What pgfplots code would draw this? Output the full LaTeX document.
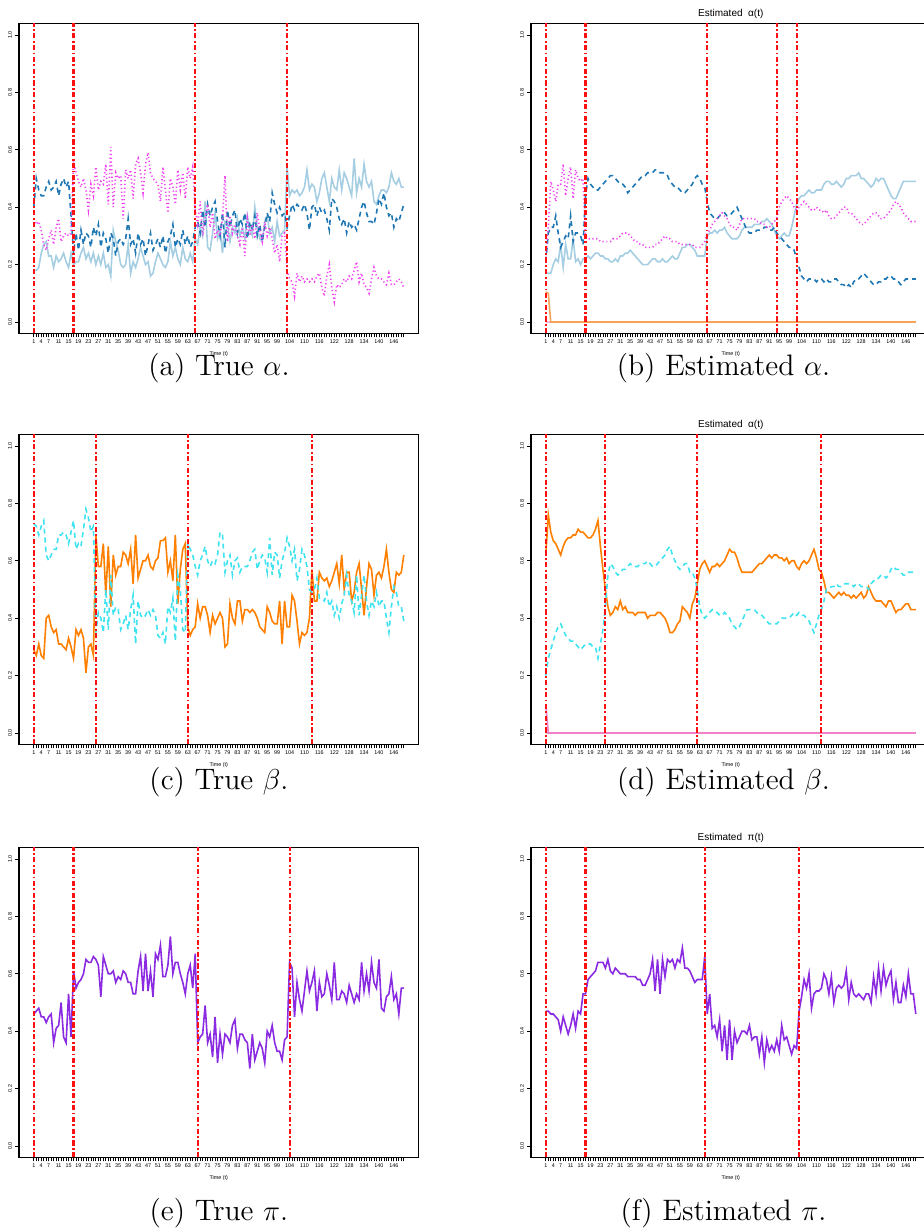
\documentclass[border=0pt]{standalone}
\usepackage{fontspec}
\usepackage{pgfplots}
\pgfplotsset{compat=1.18}
\newfontfamily\plotfont{Liberation Sans}
\newcommand{\tickfont}{\plotfont\fontsize{2.7}{3.2}\selectfont}
\newcommand{\titlefont}{\plotfont\fontsize{5}{6}\selectfont}
\newcommand{\capfont}{\fontsize{14.8}{17}\selectfont}
\definecolor{pLB}{HTML}{A6CEE3}
\definecolor{pDB}{HTML}{1F78B4}
\definecolor{pMG}{HTML}{F040F0}
\definecolor{pOR}{HTML}{FF7F00}
\definecolor{pCY}{HTML}{3FE3F0}
\definecolor{pPU}{HTML}{8A2BE2}
\definecolor{pLO}{HTML}{F5A45A}
\definecolor{pPK}{HTML}{F080C8}
\definecolor{pRD}{HTML}{FF1010}
\newcommand{\ser}[2]{\addplot[#1] table[x expr=\coordindex+1, y index=0, header=false, row sep=\\]{#2};}
\newcommand{\vl}[1]{\addplot[draw=pRD, color=pRD, solid, line width=1.05pt, line cap=butt, dash pattern=on 2.6pt off 1.2pt on 0.9pt off 1.2pt] coordinates {(#1,-0.04) (#1,1.04)};}
\pgfplotsset{
 panel/.style={scale only axis, width=199.8pt, height=155pt,
  xmin=-4.96, xmax=155.96, ymin=-0.04, ymax=1.04,
  axis line style={line width=0.6pt}, tick style={black, line width=0.4pt},
  tick align=outside, xtick pos=lower, ytick pos=left,
  major tick length=2pt, minor tick length=2pt,
  xtick={1,4,7,11,15,19,23,27,31,35,39,43,47,51,55,59,63,67,71,75,79,83,87,91,95,99,104,110,116,122,128,134,140,146},
  minor xtick={1,...,150},
  ytick={0,0.2,0.4,0.6,0.8,1},
  /pgf/number format/assume math mode=true,
  ticklabel style={font=\tickfont},
  xticklabel shift=-2.5pt, yticklabel shift=-2pt,
  yticklabel style={rotate=90, anchor=south, /pgf/number format/.cd, fixed, fixed zerofill, precision=1},
  xlabel={Time (t)},
  xlabel style={font=\tickfont, at={(axis description cs:0.5,0)}, anchor=north, yshift=-9pt, inner sep=0pt},
  title style={font=\titlefont, at={(0.5,1)}, anchor=south, yshift=-3.5pt, inner sep=0pt},
  clip=true},
 lb/.style={pLB, line width=0.8pt},
 db/.style={pDB, line width=0.8pt, dash pattern=on 2.5pt off 2pt},
 mg/.style={pMG, line width=0.8pt, dash pattern=on 0.6pt off 1.3pt},
 orl/.style={pOR, line width=0.8pt},
 cy/.style={pCY, line width=0.8pt, dash pattern=on 2.5pt off 2pt},
 pu/.style={pPU, line width=0.8pt}
}
\begin{document}
\begin{tikzpicture}
\useasboundingbox (0,0) rectangle (462pt,616pt);
\clip (0,0) rectangle (462pt,616pt);
% ---------------- (a) True alpha
\begin{axis}[panel, at={(9.5pt,449.25pt)}, anchor=south west]
\ser{lb}{0.18\\0.18\\0.19\\0.24\\0.27\\0.28\\0.23\\0.23\\0.19\\0.23\\0.21\\0.22\\0.24\\0.21\\0.19\\0.24\\
0.20\\0.21\\0.21\\0.24\\0.26\\0.22\\0.24\\0.21\\0.24\\0.20\\0.23\\0.20\\0.24\\0.19\\0.20\\0.16\\0.32\\0.28\\0.25\\0.20\\
0.19\\0.20\\0.27\\0.17\\0.21\\0.19\\0.22\\0.26\\0.23\\0.20\\0.21\\0.16\\0.17\\0.21\\0.24\\0.22\\0.20\\0.19\\0.21\\0.28\\
0.23\\0.26\\0.22\\0.20\\0.26\\0.22\\0.21\\0.24\\0.21\\
0.29\\0.27\\0.33\\0.30\\0.42\\0.26\\0.25\\0.31\\0.38\\0.29\\0.32\\0.24\\0.35\\0.34\\0.28\\0.33\\0.31\\0.36\\0.30\\0.33\\
0.29\\0.37\\0.32\\0.30\\0.40\\0.33\\0.29\\0.28\\0.35\\0.37\\0.31\\0.33\\0.28\\0.35\\0.30\\0.31\\0.32\\
0.54\\0.44\\0.46\\0.45\\0.46\\0.44\\0.45\\0.47\\0.53\\0.46\\0.48\\0.47\\0.42\\0.45\\0.50\\0.52\\0.47\\0.42\\0.50\\0.47\\
0.46\\0.53\\0.46\\0.52\\0.50\\0.47\\0.44\\0.57\\0.45\\0.50\\0.47\\0.55\\0.49\\0.47\\0.49\\0.42\\0.41\\0.44\\0.46\\0.46\\
0.45\\0.47\\0.52\\0.49\\0.48\\0.50\\0.47\\0.47\\}
\ser{db}{0.40\\0.50\\0.46\\0.44\\0.44\\0.47\\0.49\\0.46\\0.47\\0.49\\0.44\\0.48\\0.50\\0.47\\0.49\\0.37\\
0.24\\0.31\\0.25\\0.32\\0.27\\0.31\\0.30\\0.26\\0.33\\0.30\\0.34\\0.26\\0.31\\0.29\\0.24\\0.31\\0.29\\0.23\\0.28\\0.29\\
0.27\\0.29\\0.36\\0.27\\0.29\\0.24\\0.31\\0.27\\0.29\\0.23\\0.27\\0.31\\0.25\\0.27\\0.29\\0.26\\0.30\\0.24\\0.28\\0.30\\
0.34\\0.26\\0.29\\0.27\\0.32\\0.27\\0.30\\0.26\\0.28\\
0.33\\0.35\\0.31\\0.39\\0.33\\0.41\\0.37\\0.40\\0.42\\0.35\\0.30\\0.38\\0.26\\0.39\\0.33\\0.37\\0.39\\0.31\\0.36\\0.34\\
0.38\\0.29\\0.35\\0.32\\0.37\\0.30\\0.34\\0.28\\0.33\\0.38\\0.35\\0.45\\0.41\\0.38\\0.40\\0.37\\0.38\\
0.33\\0.37\\0.41\\0.39\\0.41\\0.40\\0.39\\0.41\\0.38\\0.32\\0.40\\0.41\\0.37\\0.40\\0.38\\0.39\\0.36\\0.32\\0.43\\0.42\\
0.40\\0.36\\0.34\\0.36\\0.31\\0.35\\0.33\\0.34\\0.32\\0.36\\0.40\\0.42\\0.38\\0.35\\0.35\\0.34\\0.38\\0.43\\0.41\\0.45\\
0.40\\0.37\\0.38\\0.33\\0.36\\0.35\\0.38\\0.41\\}
\ser{mg}{0.36\\0.34\\0.35\\0.32\\0.27\\0.25\\0.29\\0.32\\0.27\\0.33\\0.36\\0.28\\0.30\\0.31\\0.30\\0.31\\
0.56\\0.52\\0.49\\0.47\\0.50\\0.46\\0.39\\0.48\\0.44\\0.54\\0.46\\0.49\\0.48\\0.55\\0.41\\0.61\\0.40\\0.52\\0.50\\0.51\\
0.36\\0.53\\0.50\\0.53\\0.43\\0.55\\0.57\\0.52\\0.45\\0.55\\0.59\\0.52\\0.50\\0.49\\0.48\\0.42\\0.54\\0.46\\0.38\\0.50\\
0.47\\0.41\\0.53\\0.46\\0.52\\0.43\\0.54\\0.50\\0.54\\
0.39\\0.34\\0.42\\0.30\\0.36\\0.41\\0.33\\0.38\\0.29\\0.32\\0.30\\0.36\\0.51\\0.28\\0.37\\0.31\\0.34\\0.30\\0.27\\0.33\\
0.23\\0.36\\0.30\\0.34\\0.29\\0.38\\0.32\\0.28\\0.35\\0.30\\0.33\\0.29\\0.24\\0.27\\0.21\\0.30\\0.31\\
0.18\\0.15\\0.14\\0.09\\0.17\\0.14\\0.16\\0.14\\0.15\\0.14\\0.15\\0.14\\0.16\\0.17\\0.12\\0.09\\0.16\\0.20\\0.12\\0.07\\
0.13\\0.12\\0.13\\0.15\\0.14\\0.16\\0.15\\0.18\\0.21\\0.14\\0.17\\0.13\\0.12\\0.10\\0.15\\0.19\\0.16\\0.15\\0.15\\0.14\\
0.13\\0.17\\0.13\\0.13\\0.14\\0.15\\0.14\\0.12\\}
\vl{1}\vl{17}\vl{66}\vl{103}
\end{axis}
% ---------------- (b) Estimated alpha
\begin{axis}[panel, at={(265.5pt,449.25pt)}, anchor=south west, title={Estimated\ \ α(t)}]
\addplot[pPK!60, line width=0.7pt, dash pattern=on 2pt off 1.5pt] coordinates {(1,0) (150,0)};
\addplot[pLO, line width=0.8pt] coordinates {(1,0.105) (2,0.10) (3,0) (150,0)};
\ser{lb}{0.17\\0.17\\0.17\\0.20\\0.22\\0.21\\0.27\\0.19\\0.27\\0.22\\0.22\\0.29\\0.21\\0.22\\0.20\\0.22\\
0.22\\0.23\\0.22\\0.23\\0.24\\0.24\\0.23\\0.23\\0.22\\0.22\\0.21\\0.21\\0.22\\0.21\\0.23\\0.23\\0.24\\0.24\\0.25\\0.24\\
0.23\\0.22\\0.21\\0.20\\0.20\\0.20\\0.21\\0.22\\0.22\\0.21\\0.21\\0.22\\0.21\\0.21\\0.22\\0.23\\0.22\\0.22\\0.24\\0.26\\
0.26\\0.27\\0.27\\0.26\\0.25\\0.23\\0.23\\0.23\\0.23\\
0.30\\0.31\\0.31\\0.32\\0.31\\0.32\\0.32\\0.33\\0.31\\0.30\\0.29\\0.29\\0.29\\0.30\\0.32\\0.33\\0.33\\0.33\\0.33\\0.34\\
0.34\\0.34\\0.35\\0.35\\0.36\\0.35\\0.34\\0.32\\
0.30\\0.29\\0.30\\0.31\\0.30\\0.30\\0.33\\0.37\\
0.41\\0.43\\0.44\\0.44\\0.45\\0.46\\0.45\\0.45\\0.46\\0.46\\0.46\\0.48\\0.49\\0.49\\0.48\\0.48\\0.49\\0.48\\0.47\\0.48\\
0.50\\0.50\\0.51\\0.51\\0.51\\0.52\\0.50\\0.50\\0.49\\0.48\\0.47\\0.48\\0.50\\0.49\\0.50\\0.50\\0.48\\0.46\\0.44\\0.43\\
0.43\\0.45\\0.47\\0.49\\0.49\\0.49\\0.49\\0.49\\0.49\\}
\ser{db}{0.21\\0.31\\0.33\\0.33\\0.37\\0.31\\0.26\\0.28\\0.30\\0.29\\0.37\\0.28\\0.31\\0.31\\0.30\\0.27\\
0.44\\0.50\\0.48\\0.47\\0.46\\0.46\\0.47\\0.48\\0.49\\0.50\\0.51\\0.51\\0.50\\0.49\\0.48\\0.48\\0.47\\0.45\\0.46\\0.47\\
0.48\\0.49\\0.50\\0.51\\0.51\\0.52\\0.52\\0.52\\0.53\\0.53\\0.52\\0.52\\0.52\\0.51\\0.49\\0.48\\0.47\\0.47\\0.46\\0.45\\
0.45\\0.46\\0.47\\0.48\\0.50\\0.51\\0.50\\0.48\\0.47\\
0.42\\0.38\\0.37\\0.36\\0.36\\0.37\\0.38\\0.38\\0.37\\0.37\\0.38\\0.39\\0.40\\0.38\\0.36\\0.34\\0.32\\0.31\\0.31\\0.31\\
0.32\\0.32\\0.32\\0.33\\0.33\\0.32\\0.32\\0.33\\
0.31\\0.30\\0.29\\0.28\\0.27\\0.26\\0.26\\0.25\\
0.22\\0.19\\0.16\\0.15\\0.14\\0.15\\0.15\\0.15\\0.14\\0.15\\0.15\\0.14\\0.15\\0.14\\0.14\\0.15\\0.15\\0.14\\0.13\\0.13\\
0.12\\0.13\\0.12\\0.14\\0.15\\0.15\\0.16\\0.17\\0.16\\0.15\\0.14\\0.13\\0.13\\0.14\\0.14\\0.15\\0.15\\0.16\\0.16\\0.15\\
0.15\\0.14\\0.13\\0.14\\0.15\\0.15\\0.15\\0.15\\0.15\\}
\ser{mg}{0.22\\0.33\\0.49\\0.46\\0.42\\0.48\\0.48\\0.55\\0.44\\0.50\\0.54\\0.43\\0.53\\0.50\\0.49\\0.50\\
0.30\\0.29\\0.29\\0.29\\0.29\\0.29\\0.28\\0.28\\0.28\\0.28\\0.28\\0.29\\0.29\\0.29\\0.30\\0.31\\0.31\\0.31\\0.30\\0.29\\
0.28\\0.28\\0.27\\0.27\\0.26\\0.26\\0.26\\0.26\\0.27\\0.27\\0.28\\0.29\\0.30\\0.29\\0.29\\0.28\\0.28\\0.28\\0.27\\0.27\\
0.27\\0.27\\0.27\\0.27\\0.26\\0.26\\0.26\\0.27\\0.28\\
0.31\\0.32\\0.34\\0.35\\0.36\\0.37\\0.38\\0.37\\0.36\\0.34\\0.33\\0.33\\0.32\\0.34\\0.36\\0.36\\0.36\\0.36\\0.36\\0.36\\
0.35\\0.35\\0.34\\0.34\\0.33\\0.33\\0.34\\0.35\\
0.36\\0.40\\0.42\\0.43\\0.44\\0.43\\0.42\\0.40\\
0.39\\0.40\\0.41\\0.42\\0.41\\0.40\\0.39\\0.39\\0.40\\0.39\\0.39\\0.38\\0.39\\0.37\\0.36\\0.36\\0.37\\0.38\\0.39\\0.40\\
0.40\\0.38\\0.38\\0.37\\0.36\\0.35\\0.34\\0.34\\0.35\\0.36\\0.37\\0.38\\0.38\\0.37\\0.36\\0.36\\0.37\\0.38\\0.39\\0.41\\
0.42\\0.41\\0.40\\0.38\\0.37\\0.36\\0.35\\0.35\\0.35\\}
\vl{1}\vl{17}\vl{66}\vl{94}\vl{102}
\end{axis}
% ---------------- (c) True beta
\begin{axis}[panel, at={(9.5pt,243.75pt)}, anchor=south west]
\ser{orl}{0.29\\0.27\\0.31\\0.27\\0.26\\0.40\\0.41\\0.37\\0.35\\0.36\\0.31\\0.31\\0.30\\0.29\\0.33\\0.30\\0.26\\0.36\\0.34\\0.36\\
0.33\\0.21\\0.30\\0.31\\0.27\\
0.69\\0.58\\0.58\\0.66\\0.48\\0.65\\0.44\\0.62\\0.55\\0.58\\0.58\\0.63\\0.62\\0.59\\0.64\\0.52\\0.69\\0.54\\0.57\\0.60\\
0.60\\0.62\\0.58\\0.57\\0.60\\0.61\\0.67\\0.67\\0.68\\0.56\\0.60\\0.53\\0.69\\0.45\\0.57\\0.64\\0.66\\
0.37\\0.34\\0.36\\0.37\\0.45\\0.40\\0.44\\0.44\\0.41\\0.35\\0.41\\0.38\\0.40\\0.42\\0.40\\0.30\\0.31\\0.45\\0.40\\0.38\\
0.46\\0.46\\0.39\\0.43\\0.43\\0.42\\0.43\\0.42\\0.40\\0.37\\0.36\\0.35\\0.44\\0.42\\0.39\\0.38\\0.38\\0.46\\0.31\\0.46\\
0.37\\0.37\\0.48\\0.46\\0.39\\0.31\\0.35\\0.34\\0.35\\0.40\\
0.57\\0.46\\0.46\\0.56\\0.54\\0.53\\0.54\\0.51\\0.53\\0.56\\0.59\\0.52\\0.62\\0.50\\0.56\\0.56\\0.46\\0.49\\0.56\\0.59\\
0.50\\0.41\\0.51\\0.59\\0.57\\0.48\\0.55\\0.56\\0.54\\0.58\\0.64\\0.56\\0.50\\0.49\\0.56\\0.55\\0.56\\0.62\\}
\ser{cy}{0.73\\0.72\\0.69\\0.72\\0.74\\0.62\\0.60\\0.62\\0.64\\0.64\\0.69\\0.69\\0.70\\0.69\\0.66\\0.70\\0.74\\0.64\\0.66\\0.65\\
0.71\\0.78\\0.75\\0.70\\0.72\\
0.35\\0.42\\0.40\\0.35\\0.50\\0.36\\0.55\\0.41\\0.44\\0.43\\0.36\\0.38\\0.41\\0.36\\0.43\\0.48\\0.31\\0.46\\0.41\\0.40\\
0.41\\0.43\\0.41\\0.43\\0.41\\0.34\\0.33\\0.35\\0.31\\0.44\\0.42\\0.47\\0.32\\0.55\\0.50\\0.36\\0.35\\
0.66\\0.64\\0.62\\0.58\\0.55\\0.60\\0.62\\0.65\\0.60\\0.58\\0.60\\0.59\\0.62\\0.70\\0.69\\0.56\\0.60\\0.62\\0.55\\0.60\\
0.61\\0.56\\0.58\\0.58\\0.58\\0.60\\0.63\\0.64\\0.57\\0.60\\0.62\\0.61\\0.56\\0.68\\0.55\\0.63\\0.62\\0.54\\0.60\\0.63\\
0.68\\0.65\\0.60\\0.64\\0.53\\0.57\\0.64\\0.62\\0.58\\0.50\\
0.49\\0.50\\0.54\\0.47\\0.47\\0.46\\0.49\\0.44\\0.46\\0.41\\0.44\\0.40\\0.45\\0.48\\0.55\\0.48\\0.46\\0.42\\0.55\\0.41\\
0.48\\0.55\\0.46\\0.41\\0.46\\0.44\\0.49\\0.44\\0.46\\0.46\\0.40\\0.35\\0.44\\0.51\\0.49\\0.44\\0.44\\0.39\\}
\vl{1}\vl{26}\vl{63}\vl{113}
\end{axis}
% ---------------- (d) Estimated beta
\begin{axis}[panel, at={(265.5pt,243.75pt)}, anchor=south west, title={Estimated\ \ α(t)}]
\addplot[gray!50, line width=0.7pt, dash pattern=on 2pt off 1.5pt] coordinates {(1,0) (150,0)};
\addplot[pPK, line width=0.8pt] coordinates {(1,0.10) (2,0) (150,0)};
\ser{orl}{0.62\\0.76\\0.70\\0.67\\0.66\\0.64\\0.62\\0.65\\0.67\\0.68\\0.68\\0.69\\0.69\\0.71\\0.70\\0.70\\0.69\\0.68\\0.68\\0.69\\
0.71\\0.74\\0.65\\0.57\\
0.50\\0.44\\0.41\\0.42\\0.44\\0.43\\0.46\\0.43\\0.44\\0.42\\0.42\\0.42\\0.41\\0.42\\0.42\\0.42\\0.42\\0.40\\0.41\\0.41\\
0.41\\0.42\\0.42\\0.41\\0.40\\0.38\\0.35\\0.35\\0.36\\0.38\\0.39\\0.44\\0.43\\0.42\\0.40\\0.45\\0.47\\
0.52\\0.57\\0.59\\0.60\\0.58\\0.56\\0.58\\0.58\\0.59\\0.58\\0.59\\0.60\\0.62\\0.64\\0.63\\0.63\\0.61\\0.58\\0.56\\0.56\\
0.56\\0.56\\0.56\\0.57\\0.58\\0.59\\0.59\\0.60\\0.61\\0.62\\0.61\\0.62\\0.62\\0.61\\0.61\\0.60\\0.61\\0.59\\0.60\\0.60\\
0.58\\0.57\\0.59\\0.60\\0.59\\0.60\\0.62\\0.64\\0.61\\0.57\\
0.56\\0.53\\0.49\\0.49\\0.48\\0.47\\0.48\\0.49\\0.48\\0.49\\0.48\\0.48\\0.47\\0.48\\0.47\\0.48\\0.49\\0.47\\0.48\\0.51\\
0.49\\0.47\\0.46\\0.46\\0.46\\0.45\\0.44\\0.46\\0.46\\0.44\\0.42\\0.43\\0.43\\0.44\\0.45\\0.45\\0.43\\0.43\\0.43\\}
\ser{cy}{0.20\\0.26\\0.29\\0.32\\0.35\\0.37\\0.38\\0.36\\0.34\\0.33\\0.32\\0.32\\0.31\\0.30\\0.29\\0.30\\0.31\\0.31\\0.31\\0.30\\
0.30\\0.26\\0.31\\0.36\\
0.44\\0.55\\0.59\\0.58\\0.56\\0.55\\0.56\\0.57\\0.57\\0.58\\0.59\\0.58\\0.58\\0.58\\0.59\\0.59\\0.59\\0.60\\0.59\\0.58\\
0.58\\0.59\\0.60\\0.61\\0.62\\0.64\\0.65\\0.62\\0.60\\0.58\\0.57\\0.58\\0.59\\0.59\\0.56\\0.56\\0.54\\
0.50\\0.44\\0.41\\0.40\\0.41\\0.42\\0.43\\0.42\\0.42\\0.41\\0.41\\0.42\\0.41\\0.40\\0.38\\0.37\\0.36\\0.37\\0.39\\0.41\\
0.43\\0.43\\0.43\\0.43\\0.42\\0.41\\0.41\\0.40\\0.39\\0.38\\0.38\\0.38\\0.38\\0.39\\0.40\\0.40\\0.40\\0.40\\0.41\\0.42\\
0.41\\0.42\\0.41\\0.41\\0.40\\0.39\\0.37\\0.35\\0.38\\0.41\\
0.43\\0.46\\0.50\\0.50\\0.51\\0.51\\0.52\\0.51\\0.51\\0.52\\0.52\\0.52\\0.52\\0.51\\0.52\\0.52\\0.51\\0.51\\0.51\\0.50\\
0.52\\0.53\\0.53\\0.54\\0.55\\0.55\\0.54\\0.55\\0.57\\0.58\\0.57\\0.57\\0.56\\0.55\\0.55\\0.56\\0.56\\0.56\\0.56\\}
\vl{1}\vl{25}\vl{62}\vl{112}
\end{axis}
% ---------------- (e) True pi
\begin{axis}[panel, at={(9.5pt,37.25pt)}, anchor=south west]
\ser{pu}{0.46\\0.47\\0.48\\0.45\\0.45\\0.43\\0.45\\0.46\\0.36\\0.41\\0.42\\0.50\\0.38\\0.36\\0.53\\0.38\\
0.61\\0.55\\0.57\\0.58\\0.60\\0.65\\0.64\\0.64\\0.66\\0.65\\0.63\\0.52\\0.66\\0.63\\0.60\\0.60\\0.61\\0.57\\0.59\\0.58\\
0.61\\0.60\\0.57\\0.57\\0.53\\0.53\\0.61\\0.66\\0.54\\0.67\\0.54\\0.61\\0.52\\0.67\\0.65\\0.70\\0.59\\0.59\\0.63\\0.73\\
0.60\\0.64\\0.64\\0.60\\0.57\\0.53\\0.60\\0.63\\0.55\\0.67\\
0.36\\0.38\\0.39\\0.49\\0.36\\0.39\\0.31\\0.45\\0.29\\0.39\\0.32\\0.39\\0.38\\0.36\\0.42\\0.44\\0.34\\0.39\\0.39\\0.37\\
0.36\\0.27\\0.39\\0.30\\0.33\\0.36\\0.34\\0.29\\0.40\\0.38\\0.42\\0.36\\0.33\\0.33\\0.30\\0.37\\0.38\\
0.64\\0.62\\0.45\\0.57\\0.51\\0.47\\0.54\\0.61\\0.54\\0.57\\0.61\\0.47\\0.57\\0.52\\0.53\\0.60\\0.56\\0.51\\0.64\\0.51\\
0.51\\0.54\\0.53\\0.50\\0.56\\0.53\\0.50\\0.53\\0.51\\0.64\\0.54\\0.60\\0.54\\0.64\\0.57\\0.55\\0.65\\0.48\\0.47\\0.52\\
0.53\\0.59\\0.51\\0.53\\0.46\\0.55\\0.55\\}
\vl{1}\vl{17}\vl{67}\vl{104}
\end{axis}
% ---------------- (f) Estimated pi
\begin{axis}[panel, at={(265.5pt,37.25pt)}, anchor=south west, title={Estimated\ \ π(t)}]
\ser{pu}{0.47\\0.47\\0.46\\0.46\\0.45\\0.44\\0.40\\0.45\\0.42\\0.39\\0.42\\0.46\\0.41\\0.47\\0.46\\0.53\\
0.53\\0.58\\0.59\\0.60\\0.61\\0.64\\0.64\\0.64\\0.62\\0.65\\0.61\\0.60\\0.62\\0.61\\0.60\\0.60\\0.60\\0.59\\0.59\\0.59\\
0.59\\0.58\\0.58\\0.56\\0.56\\0.58\\0.60\\0.65\\0.54\\0.65\\0.53\\0.65\\0.59\\0.65\\0.64\\0.65\\0.62\\0.65\\0.64\\0.69\\
0.62\\0.62\\0.61\\0.59\\0.57\\0.58\\0.58\\0.58\\
0.66\\0.46\\0.53\\0.41\\0.42\\0.38\\0.44\\0.33\\0.42\\0.30\\0.44\\0.30\\0.40\\0.36\\0.38\\0.40\\0.40\\0.39\\0.42\\0.37\\
0.38\\0.38\\0.32\\0.38\\0.29\\0.37\\0.33\\0.35\\0.33\\0.37\\0.33\\0.42\\0.37\\0.38\\0.35\\0.32\\0.35\\0.34\\
0.47\\0.52\\0.58\\0.55\\0.60\\0.48\\0.53\\0.54\\0.54\\0.55\\0.60\\0.58\\0.53\\0.59\\0.50\\0.55\\0.56\\0.55\\0.56\\0.61\\
0.51\\0.57\\0.53\\0.52\\0.53\\0.52\\0.51\\0.53\\0.53\\0.50\\0.59\\0.53\\0.62\\0.54\\0.62\\0.56\\0.59\\0.61\\0.51\\0.57\\
0.50\\0.50\\0.56\\0.52\\0.60\\0.53\\0.53\\0.46\\}
\vl{1}\vl{17}\vl{65}\vl{103}
\end{axis}
% ---------------- sub-captions
\node[anchor=base, font=\capfont, inner sep=0pt] at (109.5pt,428pt) {(a) True $\alpha$.};
\node[anchor=base, font=\capfont, inner sep=0pt] at (361.75pt,428pt) {(b) Estimated $\alpha$.};
\node[anchor=base, font=\capfont, inner sep=0pt] at (109.5pt,221pt) {(c) True $\beta$.};
\node[anchor=base, font=\capfont, inner sep=0pt] at (361.75pt,221pt) {(d) Estimated $\beta$.};
\node[anchor=base, font=\capfont, inner sep=0pt] at (109.5pt,5.5pt) {(e) True $\pi$.};
\node[anchor=base, font=\capfont, inner sep=0pt] at (361.75pt,5.5pt) {(f) Estimated $\pi$.};
\end{tikzpicture}
\end{document}
